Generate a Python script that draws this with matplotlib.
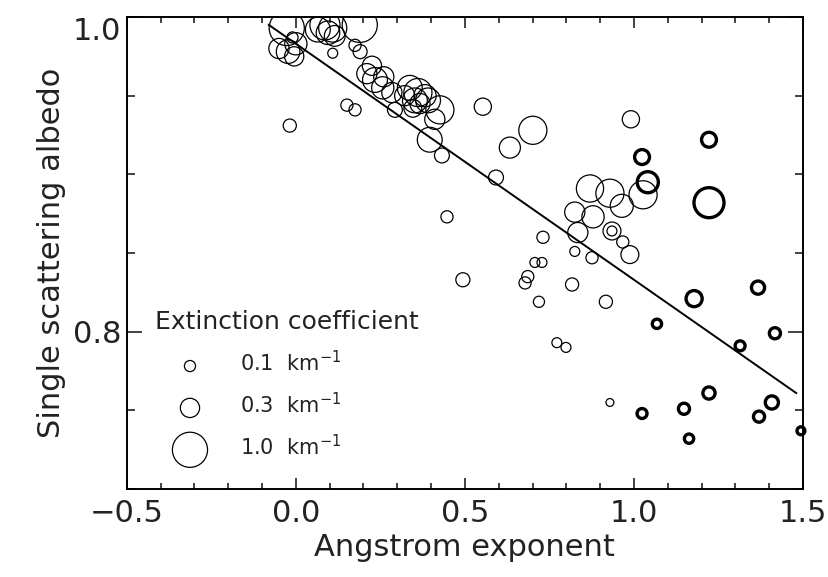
import numpy as np
import matplotlib
matplotlib.use('Agg')
import matplotlib.pyplot as plt
from matplotlib.ticker import MultipleLocator

plt.rcParams['font.family'] = ['DejaVu Sans']
plt.rcParams['mathtext.fontset'] = 'dejavusans'

# ── data ───────────────────────────────────────────────────────────────────
# thin circles: angstrom exponent, single scattering albedo, extinction (km-1)
thin_x = [-0.027, -0.050, -0.023, 0.000, -0.010, -0.005, -0.018,
          0.065, 0.086, 0.109, 0.095, 0.115, 0.109,
          0.189, 0.175, 0.190, 0.225, 0.260,
          0.151, 0.175, 0.210, 0.234, 0.257, 0.284,
          0.337, 0.361, 0.382, 0.352, 0.322, 0.367, 0.346, 0.391,
          0.426, 0.396, 0.432, 0.411, 0.293,
          0.553, 0.701, 0.633, 0.592, 0.447, 0.494,
          0.991, 1.027, 0.870, 0.929, 0.964, 0.825, 0.879, 0.834,
          0.935, 0.935, 0.967, 0.988,
          0.731, 0.825, 0.876, 0.707, 0.728, 0.686, 0.678, 0.817,
          0.719, 0.917, 0.772, 0.799, 0.929]
thin_y = [0.993, 0.980, 0.978, 0.983, 0.987, 0.975, 0.931,
          0.992, 0.995, 0.993, 0.990, 0.988, 0.977,
          0.995, 0.982, 0.978, 0.969, 0.962,
          0.944, 0.941, 0.964, 0.960, 0.955, 0.952,
          0.955, 0.952, 0.950, 0.947, 0.950, 0.945, 0.942, 0.947,
          0.941, 0.922, 0.912, 0.935, 0.941,
          0.943, 0.928, 0.917, 0.898, 0.873, 0.833,
          0.935, 0.887, 0.891, 0.888, 0.880, 0.876, 0.873, 0.863,
          0.864, 0.864, 0.857, 0.849,
          0.860, 0.851, 0.847, 0.844, 0.844, 0.835, 0.831, 0.830,
          0.819, 0.819, 0.793, 0.790, 0.755]
thin_ext = [1.00, 0.33, 0.45, 0.40, 0.10, 0.30, 0.14,
            0.50, 0.73, 0.64, 0.45, 0.35, 0.08,
            1.00, 0.12, 0.16, 0.30, 0.33,
            0.12, 0.12, 0.33, 0.50, 0.40, 0.33,
            0.50, 0.64, 0.40, 0.50, 0.33, 0.33, 0.26, 0.50,
            0.64, 0.50, 0.18, 0.33, 0.18,
            0.24, 0.64, 0.36, 0.18, 0.12, 0.16,
            0.24, 0.64, 0.60, 0.64, 0.43, 0.33, 0.40, 0.33,
            0.26, 0.08, 0.12, 0.26,
            0.12, 0.08, 0.12, 0.08, 0.08, 0.12, 0.12, 0.14,
            0.10, 0.14, 0.08, 0.08, 0.05]

# thick circles
thick_x = [1.222, 1.024, 1.041, 1.222, 1.178, 1.367, 1.068, 1.417,
           1.314, 1.222, 1.408, 1.024, 1.148, 1.370, 1.163, 1.494]
thick_y = [0.922, 0.911, 0.895, 0.882, 0.821, 0.828, 0.805, 0.799,
           0.791, 0.761, 0.755, 0.748, 0.751, 0.746, 0.732, 0.737]
thick_ext = [0.18, 0.18, 0.36, 0.73, 0.21, 0.14, 0.07, 0.10,
             0.08, 0.12, 0.14, 0.08, 0.10, 0.10, 0.07, 0.05]

# regression line: albedo = intercept + slope * angstrom
fit_intercept = 0.983
fit_slope     = -0.150
fit_range     = [-0.08, 1.48]

x_ticks       = [-0.5, 0.0, 0.5, 1.0, 1.5]
x_ticklabels  = ['\u22120.5', '0.0', '0.5', '1.0', '1.5']
y_ticks       = [0.8, 1.0]
y_ticklabels  = ['0.8', '1.0']

legend_ext    = [0.1, 0.3, 1.0]
legend_labels = ['0.1  km$^{-1}$', '0.3  km$^{-1}$', '1.0  km$^{-1}$']

SIZE_SCALE = 640  # marker area (pt^2) per km-1

fig = plt.figure(figsize=(8.29, 5.77), dpi=100)
ax = fig.add_axes([0.153, 0.1525, 0.8156, 0.818])

ax.scatter(thin_x, thin_y, s=np.array(thin_ext) * SIZE_SCALE,
           facecolors='none', edgecolors='black', linewidths=0.9, zorder=3)
ax.scatter(thick_x, thick_y, s=np.array(thick_ext) * SIZE_SCALE,
           facecolors='none', edgecolors='black', linewidths=2.4, zorder=3,
           clip_on=False)

xf = np.array(fit_range)
ax.plot(xf, fit_intercept + fit_slope * xf, color='black', linewidth=1.4)

ax.set_xlim(-0.5, 1.5)
ax.set_ylim(0.7, 1.0)
ax.set_xticks(x_ticks)
ax.set_xticklabels(x_ticklabels)
ax.xaxis.set_minor_locator(MultipleLocator(0.1))
ax.set_yticks(y_ticks)
ax.set_yticklabels(y_ticklabels)
ax.yaxis.set_minor_locator(MultipleLocator(0.05))

ax.tick_params(which='both', direction='in', top=True, right=True,
               labelsize=22, width=1.2, colors='#222222')
ax.tick_params(axis='x', which='major', length=8, pad=7)
ax.tick_params(axis='x', which='minor', length=4.5)
ax.tick_params(axis='y', which='major', length=11, pad=4)
ax.tick_params(axis='y', which='minor', length=6)
ax.yaxis.get_major_ticks()[1].label1.set_verticalalignment('top')
for sp in ax.spines.values():
    sp.set_linewidth(1.4)

ax.set_xlabel('Angstrom exponent', fontsize=22, labelpad=4, color='#222222')
ax.set_ylabel('Single scattering albedo', fontsize=22, labelpad=5,
              color='#222222')

handles = [ax.scatter([], [], s=e * SIZE_SCALE, facecolors='none',
                      edgecolors='black', linewidths=0.9) for e in legend_ext]
leg = ax.legend(handles, legend_labels, title='Extinction coefficient',
                loc='upper left', bbox_to_anchor=(0.041, 0.38), frameon=False,
                fontsize=15, title_fontsize=18, labelspacing=0.8,
                handlelength=3.4, handletextpad=0.7,
                borderpad=0, borderaxespad=0)
leg._legend_box.align = 'left'
leg.get_title().set_color('#222222')
for t in leg.get_texts():
    t.set_color('#222222')

fig.savefig('out.png', dpi=100)
